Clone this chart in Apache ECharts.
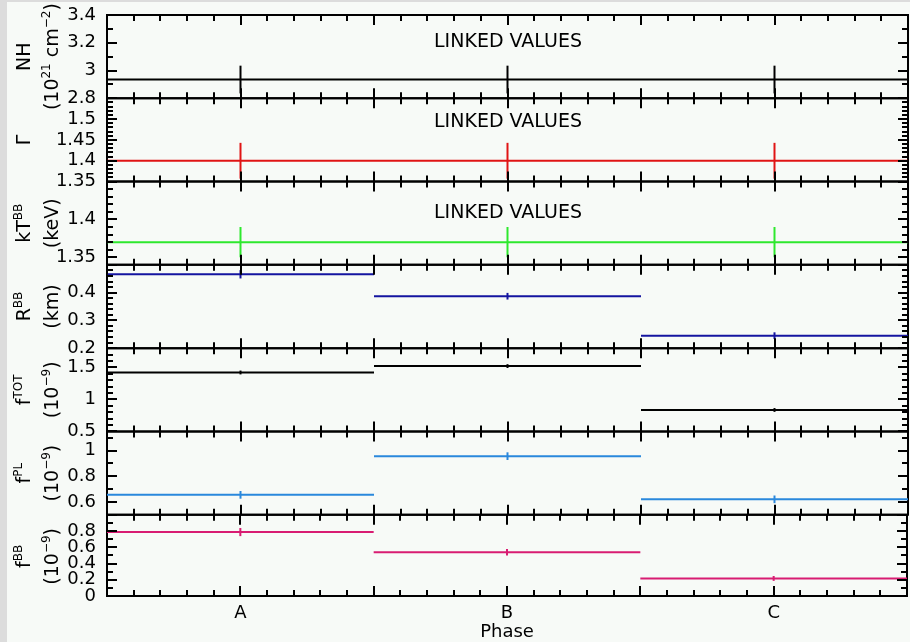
<!DOCTYPE html>
<html>
<head>
<meta charset="utf-8">
<script src="https://cdn.jsdelivr.net/npm/echarts@6/dist/echarts.min.js"></script>
<style>
  html, body { margin: 0; padding: 0; background: #dcdcdc; }
  #chart { width: 910px; height: 642px; }
</style>
</head>
<body>
<div id="chart"></div>
<script>
// Phase bins and their labels
const phaseNames = ['A', 'B', 'C'];
const phaseCenters = [0.5, 1.5, 2.5];
const binHalfWidth = 0.5;

// Fitted parameters per phase (value and 1-sigma error)
const nh = [2.935, 2.935, 2.935];
const nhErr = [0.1, 0.1, 0.1];
const gamma = [1.40, 1.40, 1.40];
const gammaErr = [0.043, 0.043, 0.043];
const ktbb = [1.37, 1.37, 1.37];
const ktbbErr = [0.02, 0.02, 0.02];
const rbb = [0.466, 0.387, 0.245];
const rbbErr = [0.015, 0.012, 0.012];
const ftot = [1.42, 1.52, 0.835];
const ftotErr = [0.03, 0.03, 0.03];
const fpl = [0.655, 0.957, 0.62];
const fplErr = [0.03, 0.03, 0.03];
const fbb = [0.787, 0.539, 0.217];
const fbbErr = [0.05, 0.04, 0.03];

// Phase axis: extent, major and minor tick steps
const xRange = { min: 0, max: 3, major: 0.5, minor: 0.1 };

// Y-axis extents, tick steps and printed tick labels for each panel
const yRanges = [
  { min: 2.8, max: 3.4, major: 0.2, minor: 0.1, labels: [2.8, 3, 3.2, 3.4] },
  { min: 1.35, max: 1.55, major: 0.05, minor: 0.01, labels: [1.35, 1.4, 1.45, 1.5] },
  { min: 1.34, max: 1.45, major: 0.05, minor: 0.01, labels: [1.35, 1.4] },
  { min: 0.2, max: 0.5, major: 0.1, minor: 0.02, labels: [0.2, 0.3, 0.4] },
  { min: 0.5, max: 1.8, major: 0.5, minor: 0.1, labels: [0.5, 1, 1.5] },
  { min: 0.5, max: 1.15, major: 0.2, minor: 0.1, labels: [0.6, 0.8, 1] },
  { min: 0, max: 1, major: 0.2, minor: 0.1, labels: [0, 0.2, 0.4, 0.6, 0.8] }
];

const panels = [
  { vals: nh, errs: nhErr, color: '#000000', name: 'NH', unit: '(10{s|21} cm{s|−2})', linked: true },
  { vals: gamma, errs: gammaErr, color: '#e01414', name: 'Γ', unit: '', linked: true },
  { vals: ktbb, errs: ktbbErr, color: '#2ee82e', name: 'kT{s|BB}', unit: '(keV)', linked: true },
  { vals: rbb, errs: rbbErr, color: '#1414a0', name: 'R{s|BB}', unit: '(km)', linked: false },
  { vals: ftot, errs: ftotErr, color: '#000000', name: 'f{s|TOT}', unit: '(10{s|−9})', linked: false },
  { vals: fpl, errs: fplErr, color: '#2a88dc', name: 'f{s|PL}', unit: '(10{s|−9})', linked: false },
  { vals: fbb, errs: fbbErr, color: '#d81c72', name: 'f{s|BB}', unit: '(10{s|−9})', linked: false }
];

// Tick positions: multiples of step that fall inside [min, max]
function tickValues(min, max, step) {
  const out = [];
  const k0 = Math.ceil(min / step - 1e-9), k1 = Math.floor(max / step + 1e-9);
  for (let k = k0; k <= k1; k++) out.push(+(k * step).toFixed(6));
  return out;
}

const FONT = '"DejaVu Sans", "Liberation Sans", sans-serif';
const plotLeft = 107, plotRight = 2, plotTop = 15, plotBottom = 598;
const panelH = (plotBottom - plotTop) / panels.length;
const MAJOR_LEN = 10, MINOR_LEN = 6;

const grids = [], xAxes = [], yAxes = [], series = [], graphics = [];

graphics.push({ type: 'rect', left: 0, top: 0, shape: { width: 7, height: 642 }, style: { fill: '#dcdcdc' }, z: -9 });
graphics.push({ type: 'rect', left: 0, top: 0, shape: { width: 910, height: 2 }, style: { fill: '#dcdcdc' }, z: -9 });

const xMajor = tickValues(xRange.min, xRange.max, xRange.major);
const xMinor = tickValues(xRange.min, xRange.max, xRange.minor).filter(v => xMajor.indexOf(v) < 0);

// Inward tick marks on all four sides of a panel, placed with the panel's own scales
function tickSeries(i, r) {
  const yMajor = tickValues(r.min, r.max, r.major);
  const yMinor = tickValues(r.min, r.max, r.minor).filter(v => yMajor.indexOf(v) < 0);
  const data = [];
  xMajor.forEach(v => data.push([v, r.min, 0]));
  xMinor.forEach(v => data.push([v, r.min, 1]));
  yMajor.forEach(v => data.push([xRange.min, v, 2]));
  yMinor.forEach(v => data.push([xRange.min, v, 3]));
  return {
    type: 'custom', xAxisIndex: i, yAxisIndex: i, clip: false, silent: true, z: 5,
    data: data, encode: { x: 0, y: 1 },
    renderItem: (params, api) => {
      const cs = params.coordSys;
      const kind = api.value(2);
      const pt = api.coord([api.value(0), api.value(1)]);
      const style = { stroke: '#000', lineWidth: 2 };
      const len = (kind === 0 || kind === 2) ? MAJOR_LEN : MINOR_LEN;
      let s1, s2;
      if (kind < 2) {
        const x = Math.round(pt[0]);
        s1 = { x1: x, y1: cs.y, x2: x, y2: cs.y + len };
        s2 = { x1: x, y1: cs.y + cs.height, x2: x, y2: cs.y + cs.height - len };
      } else {
        const y = Math.round(pt[1]);
        s1 = { x1: cs.x, y1: y, x2: cs.x + len, y2: y };
        s2 = { x1: cs.x + cs.width, y1: y, x2: cs.x + cs.width - len, y2: y };
      }
      return {
        type: 'group',
        children: [
          { type: 'line', shape: s1, style: style },
          { type: 'line', shape: s2, style: style }
        ]
      };
    }
  };
}

// Numeric tick labels at the left edge of a panel, positioned by the panel's y scale
function yLabelSeries(i, r) {
  return {
    type: 'custom', xAxisIndex: i, yAxisIndex: i, clip: false, silent: true, z: 6,
    data: r.labels.map(v => [xRange.min, v]), encode: { x: 0, y: 1 },
    renderItem: (params, api) => {
      const pt = api.coord([api.value(0), api.value(1)]);
      return {
        type: 'text',
        x: pt[0] - 11, y: pt[1],
        style: {
          text: String(+(+api.value(1)).toFixed(2)),
          font: '18px ' + FONT, fill: '#000', align: 'right', verticalAlign: 'middle'
        }
      };
    }
  };
}

panels.forEach((p, i) => {
  const top = plotTop + i * panelH;
  const last = i === panels.length - 1;
  grids.push({
    show: true, left: plotLeft, right: plotRight, top: top, height: panelH,
    borderColor: '#000', borderWidth: 2, backgroundColor: 'transparent'
  });

  const x = {
    gridIndex: i, type: 'value', min: xRange.min, max: xRange.max, interval: xRange.major,
    position: 'bottom',
    axisLine: { show: false }, axisTick: { show: false },
    splitLine: { show: false }, minorTick: { show: false },
    axisLabel: last ? {
      show: true, margin: 8, color: '#000', fontSize: 18, fontFamily: FONT,
      showMinLabel: true, showMaxLabel: true, hideOverlap: false,
      formatter: v => {
        const k = phaseCenters.findIndex(c => Math.abs(c - v) < 1e-6);
        return k >= 0 ? phaseNames[k] : '';
      }
    } : { show: false }
  };
  if (last) {
    Object.assign(x, {
      name: 'Phase', nameLocation: 'middle', nameGap: 24,
      nameTextStyle: { color: '#000', fontSize: 18, fontFamily: FONT }
    });
  }
  xAxes.push(x);

  const r = yRanges[i];
  yAxes.push({
    gridIndex: i, type: 'value', min: r.min, max: r.max, position: 'left',
    axisLine: { show: false }, axisTick: { show: false },
    splitLine: { show: false }, minorTick: { show: false },
    axisLabel: { show: false }
  });

  series.push(tickSeries(i, r));
  series.push(yLabelSeries(i, r));

  series.push({
    type: 'custom',
    xAxisIndex: i, yAxisIndex: i,
    data: phaseCenters.map((c, k) => [c, p.vals[k], p.errs[k]]),
    encode: { x: 0, y: 1 },
    clip: false, z: 4,
    renderItem: (params, api) => {
      const x = api.value(0), y = api.value(1), e = api.value(2);
      const a = api.coord([x - binHalfWidth, y]);
      const b = api.coord([x + binHalfWidth, y]);
      const hi = api.coord([x, y + e]);
      const lo = api.coord([x, y - e]);
      const style = { stroke: p.color, lineWidth: 2 };
      return {
        type: 'group',
        children: [
          { type: 'line', shape: { x1: a[0], y1: a[1], x2: b[0], y2: b[1] }, style: style },
          { type: 'line', shape: { x1: hi[0], y1: hi[1], x2: lo[0], y2: lo[1] }, style: style }
        ]
      };
    }
  });

  // Rotated parameter name and unit columns
  const cy = top + panelH / 2;
  const rich = {
    n: { fontSize: 19, fontFamily: FONT, fill: '#000', lineHeight: 24 },
    s: { fontSize: 12, fontFamily: FONT, fill: '#000', verticalAlign: 'top', lineHeight: 24 }
  };
  const wrap = t => t.split(/(\{s\|[^}]*\})/).filter(Boolean)
    .map(seg => seg.startsWith('{s|') ? seg : '{n|' + seg + '}').join('');
  graphics.push({
    type: 'text', x: 25, y: cy, rotation: Math.PI / 2,
    style: { text: wrap(p.name), rich: rich, align: 'center', verticalAlign: 'middle', fill: '#000', font: '19px ' + FONT }
  });
  if (p.unit) {
    graphics.push({
      type: 'text', x: 53, y: cy, rotation: Math.PI / 2,
      style: { text: wrap(p.unit), rich: rich, align: 'center', verticalAlign: 'middle', fill: '#000', font: '19px ' + FONT }
    });
  }
  if (p.linked) {
    const ly = [42, 122, 213][i];
    graphics.push({
      type: 'text', x: 508, y: ly,
      style: { text: 'LINKED VALUES', align: 'center', verticalAlign: 'middle', fill: '#000', font: '19px ' + FONT }
    });
  }
});

const chart = echarts.init(document.getElementById('chart'), null, { renderer: 'canvas' });
chart.setOption({
  animation: false,
  backgroundColor: '#f7faf7',
  grid: grids,
  xAxis: xAxes,
  yAxis: yAxes,
  series: series,
  graphic: { elements: graphics }
});
</script>
</body>
</html>
